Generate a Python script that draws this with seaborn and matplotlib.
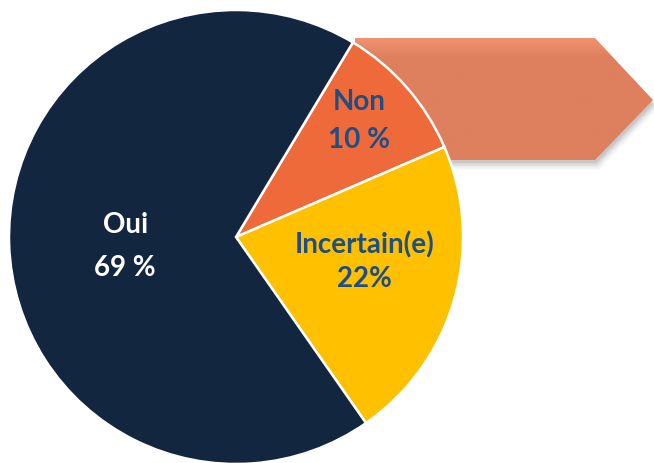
import numpy as np
import matplotlib
matplotlib.use("Agg")
import matplotlib.pyplot as plt
from matplotlib.patches import Polygon
import seaborn as sns

# data (order drawn clockwise from the top-right boundary)
categories = ["Non", "Incertain(e)", "Oui"]
values = [10, 22, 69]
value_labels = ["10 %", "22%", "69 %"]
slice_colors = ["#EE6A3A", "#FFC000", "#12263F"]
text_colors = ["#1F4E85", "#1F4E85", "#FFFFFF"]

W, H = 654, 463
sns.set_theme(style="white")
plt.rcParams["font.family"] = ["Lato", "DejaVu Sans"]

fig = plt.figure(figsize=(W / 100, H / 100), dpi=100)
ax = fig.add_axes([0, 0, 1, 1])
ax.set_xlim(0, W)
ax.set_ylim(0, H)
ax.set_aspect("equal")
ax.axis("off")

cx, cy, r = 236, H - 237, 227

# arrow shape behind the pie
arrow = np.array([[355, 38], [595, 38], [653, 100], [595, 160], [355, 160]], float)
arrow[:, 1] = H - arrow[:, 1]
for i, a in enumerate(np.linspace(0.10, 0.02, 6)):
    d = 3 + i * 1.5
    ax.add_patch(Polygon(arrow + [d * 0.4, -d], closed=True, fc="#555555",
                         ec="none", alpha=a, zorder=1))
grad = np.linspace(0, 1, 100)[:, None]
cmap = matplotlib.colors.LinearSegmentedColormap.from_list(
    "arr", [(0, "#DE7F5E"), (0.85, "#DE7F5E"), (1, "#F0926F")])
ymin, ymax = arrow[:, 1].min(), arrow[:, 1].max()
im = ax.imshow(np.repeat(grad, 2, axis=1), cmap=cmap, aspect="auto",
               extent=[arrow[:, 0].min(), arrow[:, 0].max(), ymin, ymax],
               origin="lower", zorder=2, interpolation="bilinear")
clip = Polygon(arrow, closed=True, fc="none", ec="none", transform=ax.transData)
ax.add_patch(clip)
im.set_clip_path(clip)
ax.set_xlim(0, W)
ax.set_ylim(0, H)

wedges, _ = ax.pie(values, colors=slice_colors, startangle=59, counterclock=False,
                   center=(cx, cy), radius=r, normalize=True,
                   wedgeprops=dict(edgecolor="white", linewidth=1.8, zorder=3))
for w in wedges:
    w.set_zorder(3)
ax.set_xlim(0, W)
ax.set_ylim(0, H)

# label anchors: (radius fraction, angle offset from wedge middle, line gap)
label_pos = {"Non": (0.745, 2, 38), "Incertain(e)": (0.575, 5, 34), "Oui": (0.49, 3, 43)}
for w, cat, vl, tc in zip(wedges, categories, value_labels, text_colors):
    fr, off, gap = label_pos[cat]
    mid = np.deg2rad((w.theta1 + w.theta2) / 2 + off)
    x = cx + fr * r * np.cos(mid)
    y = cy + fr * r * np.sin(mid)
    ax.text(x, y + gap / 2, cat, ha="center", va="center", fontsize=20,
            fontweight="bold", color=tc, zorder=5)
    ax.text(x, y - gap / 2, vl, ha="center", va="center", fontsize=20,
            fontweight="bold", color=tc, zorder=5)

fig.savefig("out.png", dpi=100)
